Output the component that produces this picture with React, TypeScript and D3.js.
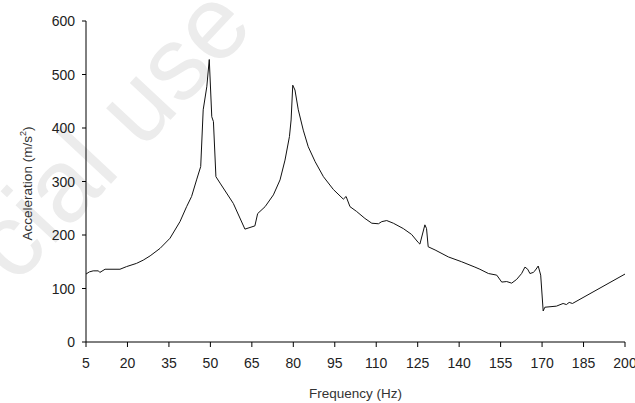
import * as d3 from 'd3';

const freq = [
  5, 6.2, 7.6, 9.5, 10, 11.9, 17.3, 19.7, 23.3, 25.7, 28.2, 31.8, 35.4, 39, 41.4, 43.2,
  45, 46.5, 47.4, 48.7, 49.6, 50.5, 51.1, 52, 53.5, 58.3, 62.5, 66.1, 67.1, 69.8,
  72.8, 75.2, 77, 78.6, 79.2, 79.8, 80.6, 81.8, 83.6, 85.4, 87.9, 90.9, 94.5, 96.9,
  98.1, 99.1, 100.5, 102.9, 105.9, 108.4, 110.8, 112, 113.8, 116.2, 119.8, 122.8,
  125.2, 125.8, 127.6, 128.2, 128.8, 131.3, 136.1, 140.9, 145.7, 147.5, 150.6, 153.6,
  155.4, 157.2, 159, 160.8, 162.6, 163.8, 164.8, 165.6, 166.8, 167.4, 168.6, 169.5,
  170.4, 171, 175.2, 177.6, 178.8, 179.8, 181, 200,
];
const accel = [
  127, 131, 133, 133, 130, 136, 136, 141, 147, 153, 161, 175, 194, 225, 253, 272,
  303, 328, 434, 477, 528, 421, 412, 309, 297, 259, 211, 217, 240, 253,
  275, 303, 340, 384, 415, 480, 471, 434, 396, 365, 337, 309, 285, 273,
  267, 272, 253, 244, 231, 222, 221, 225, 227, 222, 212, 201,
  186, 183, 219, 212, 178, 172, 159, 150, 140, 136, 128, 125,
  112, 113, 110, 117, 128, 140, 136, 128, 130, 133, 142, 125,
  58, 65, 67, 72, 70, 74, 72, 127,
];
const xTicks = d3.range(5, 201, 15);
const yTicks = d3.range(0, 601, 100);

const W = 635;
const H = 403;
const margin = { top: 21, right: 10, bottom: 61, left: 86 };

export default function App() {
  const x = d3.scaleLinear().domain([5, 200]).range([margin.left, W - margin.right]);
  const y = d3.scaleLinear().domain([0, 600]).range([H - margin.bottom, margin.top]);
  const line = d3.line<number>()
    .x((_, i) => x(freq[i]))
    .y(d => y(d));
  const y0 = y(0);
  const font = "'Liberation Sans', Arial, sans-serif";

  return (
    <svg width={W} height={H} style={{ position: 'absolute', left: 0, top: 0, background: '#fff' }}
      fontFamily={font}>
      {/* watermark */}
      <text x={256} y={28} transform="rotate(-47 256 28)" textAnchor="end" fontSize={104}
        fill="#ececec">cial use</text>

      {/* axes */}
      <line x1={margin.left} x2={margin.left} y1={margin.top} y2={y0} stroke="#000" />
      <line x1={margin.left} x2={W - margin.right} y1={y0} y2={y0} stroke="#000" />
      {yTicks.map(t => (
        <g key={'y' + t}>
          <line x1={margin.left - 4} x2={margin.left} y1={y(t)} y2={y(t)} stroke="#000" />
          <text x={margin.left - 11} y={y(t)} dy="0.36em" textAnchor="end" fontSize={14}
            fill="#222">{t}</text>
        </g>
      ))}
      {xTicks.map(t => (
        <g key={'x' + t}>
          <line x1={x(t)} x2={x(t)} y1={y0} y2={y0 + 5} stroke="#000" />
          <text x={x(t)} y={y0 + 26} textAnchor="middle" fontSize={14} fill="#222">{t}</text>
        </g>
      ))}

      <text x={(margin.left + W - margin.right) / 2} y={398} textAnchor="middle" fontSize={13.5}
        fill="#333">Frequency (Hz)</text>
      <text transform={`translate(32,${(margin.top + y0) / 2 + 2}) rotate(-90)`} textAnchor="middle"
        fontSize={13.5} fill="#333">
        Acceleration (m/s<tspan dy="-6" fontSize={9}>2</tspan><tspan dy="6">)</tspan>
      </text>

      <path d={line(accel) || ''} fill="none" stroke="#111" strokeWidth={1} />
    </svg>
  );
}
